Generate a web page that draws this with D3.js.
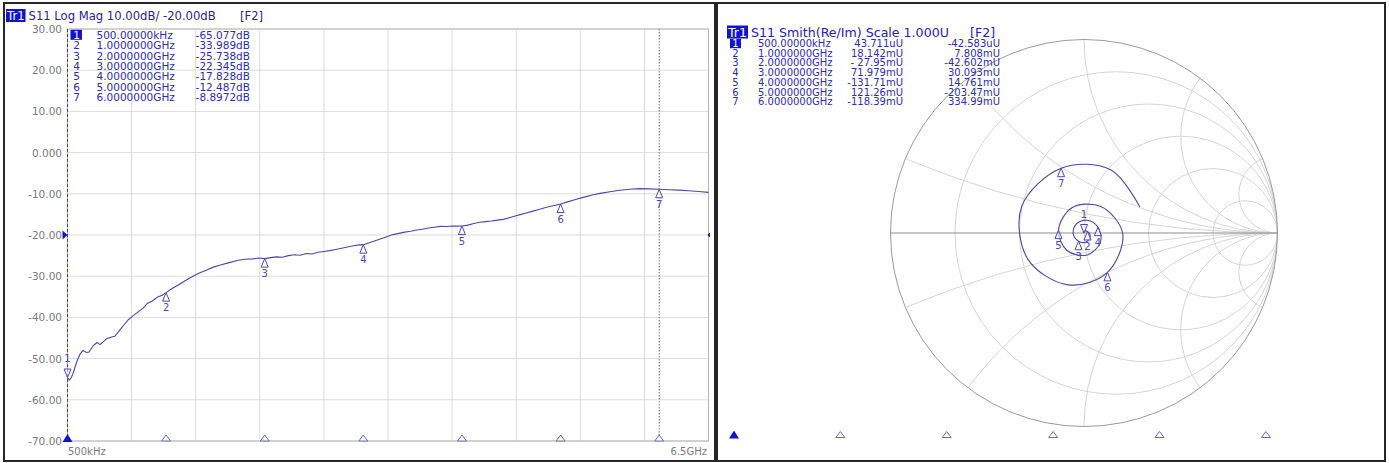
<!DOCTYPE html>
<html><head><meta charset="utf-8">
<script src="https://cdn.jsdelivr.net/npm/d3@7"></script>
<style>body{margin:0;background:#fff;} svg{display:block;}</style>
</head><body>
<svg id="c" width="1389" height="463"></svg>
<script>
// ---------------- DATA ----------------
const markerIds = ["1","2","3","4","5","6","7"];
const markerFreqGHz = [0.0005, 1, 2, 3, 4, 5, 6];
const markerFreqText = ["500.00000kHz","1.0000000GHz","2.0000000GHz","3.0000000GHz","4.0000000GHz","5.0000000GHz","6.0000000GHz"];
const markerLogMagText = ["-65.077dB","-33.989dB","-25.738dB","-22.345dB","-17.828dB","-12.487dB","-8.8972dB"];
const markerReText = ["43.711uU","18.142mU","- 27.95mU","71.979mU","-131.71mU","121.26mU","-118.39mU"];
const markerImText = ["-42.583uU","7.808mU","-42.602mU","30.093mU","14.761mU","-203.47mU","334.99mU"];
const markerRe = [0.000043711, 0.018142, -0.02795, 0.071979, -0.13171, 0.12126, -0.11839];
const markerIm = [-0.000042583, 0.007808, -0.042602, 0.030093, 0.014761, -0.20347, 0.33499];

const yTicks = [30, 20, 10, 0, -10, -20, -30, -40, -50, -60, -70];
const yTickLabels = ["30.00","20.00","10.00","0.000","-10.00","-20.00","-30.00","-40.00","-50.00","-60.00","-70.00"];
const xStartLabel = "500kHz", xStopLabel = "6.5GHz";
const refLevel = -20;

// Log Mag trace (GHz, dB)
const traceFreqGHz = [0.0005,0.02,0.04,0.06,0.08,0.1,0.13,0.16,0.19,0.22,0.26,0.3,0.33,0.36,0.4,0.44,0.48,0.52,0.57,0.62,0.67,0.72,0.77,0.81,0.86,0.91,0.96,1.0,
 1.06,1.12,1.18,1.25,1.32,1.4,1.48,1.56,1.64,1.72,1.8,1.88,1.94,2.0,2.06,2.12,2.18,2.24,2.3,2.36,2.42,2.48,2.54,2.6,2.66,2.72,2.78,2.84,2.9,2.96,3.0,
 3.06,3.12,3.18,3.24,3.3,3.36,3.42,3.48,3.54,3.6,3.66,3.72,3.78,3.84,3.9,3.96,4.0,4.06,4.12,4.18,4.24,4.3,4.36,4.42,4.48,4.54,4.6,4.66,4.72,4.78,4.84,4.9,4.96,5.0,
 5.08,5.16,5.24,5.32,5.4,5.5,5.6,5.7,5.8,5.9,6.0,6.1,6.2,6.3,6.4,6.5];
const traceDb = [-54.6,-55.2,-54.6,-53.4,-51.8,-50.4,-48.8,-48.0,-48.5,-48.4,-46.9,-46.1,-46.6,-46.0,-45.1,-44.8,-44.6,-43.4,-41.9,-40.5,-39.5,-38.6,-37.7,-36.6,-36.0,-35.1,-34.6,-33.989,
 -33.0,-32.2,-31.3,-30.3,-29.4,-28.6,-27.8,-27.2,-26.7,-26.2,-25.9,-25.8,-25.6,-25.738,-25.5,-25.3,-25.4,-25.0,-24.8,-24.9,-24.5,-24.6,-24.2,-24.0,-23.8,-23.5,-23.2,-22.9,-22.6,-22.4,-22.345,
 -21.9,-21.4,-20.9,-20.4,-19.9,-19.6,-19.3,-19.1,-18.8,-18.6,-18.3,-18.1,-17.9,-17.95,-17.8,-17.85,-17.828,-17.6,-17.2,-16.9,-16.75,-16.6,-16.4,-16.2,-15.8,-15.4,-15.0,-14.6,-14.2,-13.8,-13.4,-13.0,-12.7,-12.487,
 -11.9,-11.3,-10.8,-10.3,-9.9,-9.5,-9.15,-8.9,-8.75,-8.8,-8.897,-9.0,-9.1,-9.25,-9.45,-9.65];

// Smith trace (Re, Im)
const smithFreqGHz = [0.0005,0.25,0.5,0.75,1.0,1.25,1.5,1.75,2.0,2.25,2.5,2.75,3.0,3.25,3.5,3.75,4.0,4.25,4.5,4.75,5.0,5.25,5.5,5.75,6.0,6.25,6.5];
const smithRe = [0.00004,-0.0031,-0.0009,0.0063,0.0181,0.0308,0.0270,0.0029,-0.0280,-0.0559,-0.0396,0.0162,0.0720,0.0852,0.0162,-0.0877,-0.1317,-0.0622,0.0875,0.2000,0.1213,-0.0814,-0.2896,-0.3230,-0.1184,0.1376,0.2890];
const smithIm = [-0.00004,0.0032,0.0069,0.0109,0.0078,-0.0073,-0.0322,-0.0489,-0.0426,-0.0031,0.0477,0.0660,0.0301,-0.0484,-0.1138,-0.0905,0.0148,0.1310,0.1364,-0.0031,-0.2035,-0.2680,-0.1363,0.1345,0.3350,0.3273,0.1340];
const smithRCircles = [0.2, 0.5, 1, 2, 5];
const smithXArcs = [0.2, 0.5, 1, 2, 5];

// ---------------- STYLE ----------------
const FONT = "'DejaVu Sans', Verdana, sans-serif";
const HDR = "#2222b4", TBL = "#2c2cb4", HILITE = "#1212d4";
const TRACE = "#4848aa", MK = "#4a4ab4", GRID = "#dcdcdc", TICK = "#7a7a7a";

const svg = d3.select("#c");

// panels
svg.append("rect").attr("x",4).attr("y",3).attr("width",711).attr("height",458)
  .attr("fill","none").attr("stroke","#262626").attr("stroke-width",2);
svg.append("rect").attr("x",717).attr("y",3).attr("width",668).attr("height",458)
  .attr("fill","none").attr("stroke","#262626").attr("stroke-width",2);

function header(g, x0, yc, title, fs, f2x) {
  const box = g.append("rect").attr("x",x0).attr("y",yc-6.5).attr("height",13).attr("fill",HILITE);
  const t = g.append("text").attr("x",x0+1).attr("y",yc).attr("dominant-baseline","central")
    .attr("font-family",FONT).attr("font-size",fs).attr("fill","#fff").text("Tr1");
  const w = t.node().getComputedTextLength();
  box.attr("width", w + 2);
  g.append("text").attr("x",x0+w+5).attr("y",yc).attr("dominant-baseline","central")
    .attr("font-family",FONT).attr("font-size",fs).attr("fill",HDR).text(title);
  g.append("text").attr("x",f2x).attr("y",yc).attr("dominant-baseline","central")
    .attr("font-family",FONT).attr("font-size",fs).attr("fill",HDR).text("[F2]");
}

// ---------------- LEFT: LOG MAG ----------------
const L = svg.append("g");
const x = d3.scaleLinear().domain([0.0005, 6.5]).range([67.5, 708.5]);
const y = d3.scaleLinear().domain([-70, 30]).range([441, 29]);

// grid
const [gx0, gx1] = x.range();
L.append("g").selectAll("line").data(d3.range(1, 10)).join("line")
  .attr("x1", i => gx0 + i*(gx1-gx0)/10).attr("x2", i => gx0 + i*(gx1-gx0)/10)
  .attr("y1", y(30)).attr("y2", y(-70)).attr("stroke", GRID);
L.append("g").selectAll("line").data(yTicks).join("line")
  .attr("x1", gx0).attr("x2", gx1).attr("y1", d => y(d)).attr("y2", d => y(d)).attr("stroke", GRID);
L.append("rect").attr("x",gx0).attr("y",y(30)).attr("width",gx1-gx0).attr("height",y(-70)-y(30))
  .attr("fill","none").attr("stroke","#b4b4b4");

// y tick labels
L.append("g").selectAll("text").data(yTicks).join("text")
  .attr("x", 62).attr("y", d => y(d)).attr("text-anchor","end").attr("dominant-baseline","central")
  .attr("font-family",FONT).attr("font-size",10.5).attr("fill",TICK)
  .text((d,i) => yTickLabels[i]);
L.append("text").attr("x",68).attr("y",451).attr("dominant-baseline","central")
  .attr("font-family",FONT).attr("font-size",10).attr("fill",TICK).text(xStartLabel);
L.append("text").attr("x",707).attr("y",451).attr("text-anchor","end").attr("dominant-baseline","central")
  .attr("font-family",FONT).attr("font-size",10).attr("fill",TICK).text(xStopLabel);

// marker lines
L.append("line").attr("x1",x(markerFreqGHz[0])).attr("x2",x(markerFreqGHz[0])).attr("y1",y(30)).attr("y2",y(-70))
  .attr("stroke","#3a3ac0").attr("stroke-dasharray","3,2");
L.append("line").attr("x1",x(markerFreqGHz[6])).attr("x2",x(markerFreqGHz[6])).attr("y1",y(30)).attr("y2",y(-70))
  .attr("stroke","#6a6ab8").attr("stroke-dasharray","1.5,1.5");

// reference level markers
L.append("path").attr("d", `M${gx0-5},${y(refLevel)-4.5}L${gx0},${y(refLevel)}L${gx0-5},${y(refLevel)+4.5}Z`).attr("fill",HILITE);
L.append("path").attr("d", `M${gx1+1.5},${y(refLevel)-2.5}L${gx1-1},${y(refLevel)}L${gx1+1.5},${y(refLevel)+2.5}Z`).attr("fill",HILITE);

// trace
const tracePts = traceFreqGHz.map((f,i) => [f, traceDb[i]]);
L.append("path").datum(tracePts)
  .attr("d", d3.line().x(d => x(d[0])).y(d => y(d[1])))
  .attr("fill","none").attr("stroke",TRACE).attr("stroke-width",1.1);

function traceAt(f) { const i = traceFreqGHz.indexOf(f); return traceDb[i]; }

// markers on trace
function markUp(g, px, py, label) {
  g.append("path").attr("d", `M${px},${py}L${px-3.5},${py+8.5}L${px+3.5},${py+8.5}Z`)
    .attr("fill","#fff").attr("fill-opacity",0.6).attr("stroke",MK).attr("stroke-width",1);
  g.append("text").attr("x",px).attr("y",py+15).attr("text-anchor","middle").attr("dominant-baseline","central")
    .attr("font-family",FONT).attr("font-size",10).attr("fill",MK).text(label);
}
function markDown(g, px, py, label) {
  g.append("path").attr("d", `M${px},${py}L${px-3.5},${py-8.5}L${px+3.5},${py-8.5}Z`)
    .attr("fill","#fff").attr("fill-opacity",0.6).attr("stroke",MK).attr("stroke-width",1);
  g.append("text").attr("x",px).attr("y",py-19).attr("text-anchor","middle").attr("dominant-baseline","central")
    .attr("font-family",FONT).attr("font-size",10).attr("fill",MK).text(label);
}
markerFreqGHz.forEach((f,i) => {
  const px = x(f), py = y(traceAt(f));
  if (i === 0) markDown(L, px, py, markerIds[i]); else markUp(L, px, py, markerIds[i]);
});

// bottom stimulus triangles
function bottomTri(g, px, py, active) {
  if (active) {
    g.append("path").attr("d", `M${px},${py-7}L${px-5},${py+1}L${px+5},${py+1}Z`).attr("fill",HILITE);
  } else {
    g.append("path").attr("d", `M${px},${py-6}L${px-4.5},${py}L${px+4.5},${py}Z`)
      .attr("fill","#fff").attr("stroke","#6a6ab8").attr("stroke-width",1);
  }
}
markerFreqGHz.forEach((f,i) => bottomTri(L, x(f), 441, i === 0));

// table
const tbl = L.append("g").attr("font-family",FONT).attr("font-size",10.5).attr("fill",TBL);
const rowY = i => 34.8 + i*10.35;
tbl.append("rect").attr("x",70.5).attr("y",rowY(0)-5).attr("width",11.5).attr("height",10).attr("fill",HILITE);
markerIds.forEach((m,i) => {
  tbl.append("text").attr("x",76.5).attr("y",rowY(i)).attr("text-anchor","middle").attr("dominant-baseline","central")
    .attr("fill", i===0 ? "#fff" : TBL).text(m);
  tbl.append("text").attr("x",96.5).attr("y",rowY(i)).attr("dominant-baseline","central").text(markerFreqText[i]);
  tbl.append("text").attr("x",250).attr("y",rowY(i)).attr("text-anchor","end").attr("dominant-baseline","central").text(markerLogMagText[i]);
});
header(L, 6, 15.5, "S11 Log Mag 10.00dB/ -20.00dB", 11.6, 240);

// ---------------- RIGHT: SMITH ----------------
const S = svg.append("g");
const cx = 1084, cy = 233, R = 193.5;
const sx = d3.scaleLinear().domain([-1, 1]).range([cx - R, cx + R]);
const sy = d3.scaleLinear().domain([-1, 1]).range([cy + R, cy - R]);
const pr = v => v * R; // radius in px

S.append("clipPath").attr("id","unit").append("circle").attr("cx",cx).attr("cy",cy).attr("r",R);
const grid = S.append("g").attr("clip-path","url(#unit)").attr("fill","none").attr("stroke","#d4d4d4");
smithRCircles.forEach(r => {
  grid.append("circle").attr("cx", sx(r/(1+r))).attr("cy", sy(0)).attr("r", pr(1/(1+r)));
});
smithXArcs.forEach(xv => {
  [1, -1].forEach(s => grid.append("circle").attr("cx", sx(1)).attr("cy", sy(s/xv)).attr("r", pr(1/xv)));
});
S.append("circle").attr("cx",cx).attr("cy",cy).attr("r",R).attr("fill","none").attr("stroke","#9a9a9a");
S.append("line").attr("x1",sx(-1)).attr("x2",sx(1)).attr("y1",sy(0)).attr("y2",sy(0)).attr("stroke","#8c8c8c");

const smithPts = smithFreqGHz.map((f,i) => [smithRe[i], smithIm[i]]);
S.append("path").datum(smithPts)
  .attr("d", d3.line().x(d => sx(d[0])).y(d => sy(d[1])).curve(d3.curveCatmullRom.alpha(0.5)))
  .attr("fill","none").attr("stroke",TRACE).attr("stroke-width",1.1);

markerRe.forEach((re,i) => {
  const px = sx(re), py = sy(markerIm[i]);
  if (i === 0) markDown(S, px, py, markerIds[i]); else markUp(S, px, py, markerIds[i]);
});

// bottom triangles for the Smith panel
const xs = d3.scaleLinear().domain([0.0005, 6.5]).range([734, 1425.5]);
S.append("clipPath").attr("id","rb").append("rect").attr("x",720).attr("y",420).attr("width",620).attr("height",30);
const rb = S.append("g").attr("clip-path","url(#rb)");
markerFreqGHz.forEach((f,i) => bottomTri(rb, xs(f), 437.5, i === 0));

// Smith table
const tb2 = S.append("g").attr("font-family",FONT).attr("font-size",10).attr("fill",TBL);
const rowY2 = i => 43.5 + i*9.7;
tb2.append("rect").attr("x",730).attr("y",rowY2(0)-4.7).attr("width",11).attr("height",9.4).attr("fill",HILITE);
markerIds.forEach((m,i) => {
  tb2.append("text").attr("x",735.5).attr("y",rowY2(i)).attr("text-anchor","middle").attr("dominant-baseline","central")
    .attr("fill", i===0 ? "#fff" : TBL).text(m);
  tb2.append("text").attr("x",758).attr("y",rowY2(i)).attr("dominant-baseline","central").text(markerFreqText[i]);
  tb2.append("text").attr("x",903).attr("y",rowY2(i)).attr("text-anchor","end").attr("dominant-baseline","central").text(markerReText[i]);
  tb2.append("text").attr("x",1000).attr("y",rowY2(i)).attr("text-anchor","end").attr("dominant-baseline","central").text(markerImText[i]);
});
header(S, 727, 32, "S11 Smith(Re/Im) Scale 1.000U", 12.6, 970);
</script>
</body></html>
